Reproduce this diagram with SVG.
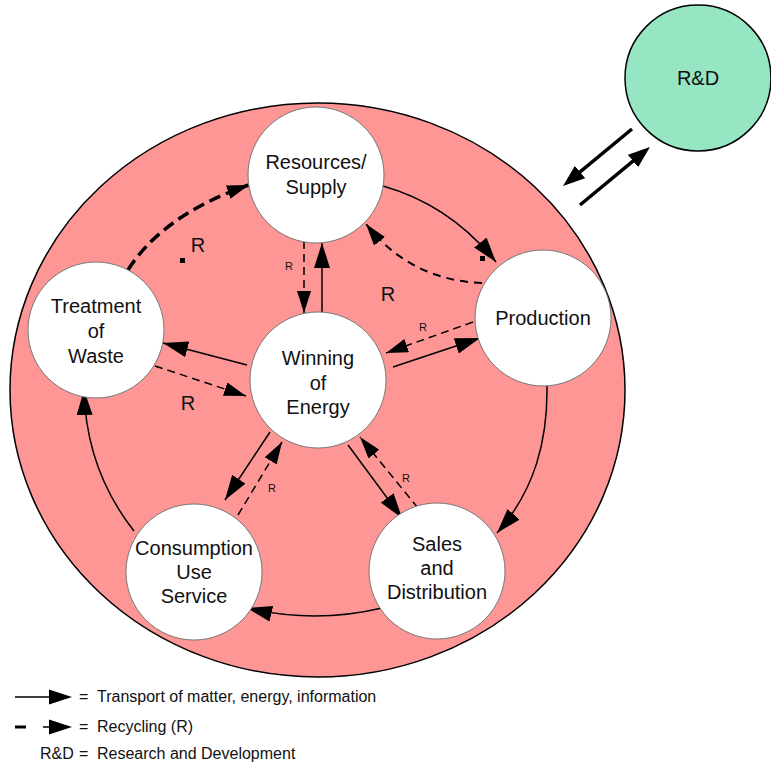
<svg xmlns="http://www.w3.org/2000/svg" width="771" height="764" viewBox="0 0 771 764">
<style>
.node circle{fill:#fff;stroke:#777;stroke-width:1}
.t{font-family:"Liberation Sans",Arial,sans-serif;font-size:20px;fill:#111;text-anchor:middle}
.rb{font-family:"Liberation Sans",Arial,sans-serif;font-size:20px;fill:#111;text-anchor:middle}
.rs{font-family:"Liberation Sans",Arial,sans-serif;font-size:11px;fill:#111;text-anchor:middle}
.lg{font-family:"Liberation Sans",Arial,sans-serif;font-size:16px;fill:#111}
.s{fill:none;stroke:#000;stroke-width:1.5;marker-end:url(#as)}
.d{fill:none;stroke:#000;stroke-width:1.5;stroke-dasharray:8 5;marker-end:url(#ad)}
.th{fill:none;stroke:#000;stroke-width:3.5;marker-end:url(#at)}
</style>
<defs>
<marker id="as" markerUnits="userSpaceOnUse" markerWidth="25" markerHeight="16" refX="25" refY="8" orient="auto"><path d="M0,0 L25,8 L0,16 z" fill="#000"/></marker>
<marker id="ad" markerUnits="userSpaceOnUse" markerWidth="22" markerHeight="14" refX="22" refY="7" orient="auto"><path d="M0,0 L22,7 L0,14 z" fill="#000"/></marker>
<marker id="at" markerUnits="userSpaceOnUse" markerWidth="22" markerHeight="16" refX="14" refY="8" orient="auto"><path d="M0,0 L22,8 L0,16 z" fill="#000"/></marker>
</defs>
<rect width="771" height="764" fill="#fff"/>
<ellipse id="system" cx="317.5" cy="390" rx="307.5" ry="287" fill="#fe9696" stroke="#000" stroke-width="1.5"/>
<g id="rd" class="node"><circle cx="698" cy="78" r="73" style="fill:#96e6c4;stroke:#000;stroke-width:1.5"/><text class="t" x="698" y="85">R&amp;D</text></g>
<g id="connectors">
<path class="s" d="M383,186 Q450,205 496,262"/>
<path class="d" style="stroke-width:2;stroke-dasharray:8 6" d="M482,283 Q410,280 366,224"/>
<path class="d" style="stroke-width:3.5;stroke-dasharray:12 6" d="M128,270 C150,235 190,205 249,185"/>
<path class="d" d="M304,241 V313"/>
<path class="s" d="M322,313 V243"/>
<path class="d" d="M473,322 L386,353"/>
<path class="s" d="M393,367 L480,338"/>
<path class="s" d="M247,365 L163,343"/>
<path class="d" d="M155,366 L246,396"/>
<path class="s" d="M270,432 L225,500"/>
<path class="d" d="M238,515 L282,442"/>
<path class="s" d="M348,445 L402,518"/>
<path class="d" d="M418,508 L360,437"/>
<path class="s" d="M547,384 C548,440 535,490 497,533"/>
<path class="s" d="M382,608 Q315,624 247,608"/>
<path class="s" d="M134,531 Q86,470 84,390"/>
<path class="th" d="M632,129 L569.2,180.9"/>
<path class="th" d="M580,205 L643.8,152.1"/>
<rect x="480" y="256" width="5" height="5" fill="#000"/>
<rect x="180" y="258" width="5" height="5" fill="#000"/>
<text class="rb" x="198" y="252">R</text>
<text class="rb" x="388" y="301">R</text>
<text class="rb" x="188" y="410">R</text>
<text class="rs" x="289" y="270">R</text>
<text class="rs" x="423" y="331">R</text>
<text class="rs" x="272" y="492">R</text>
<text class="rs" x="406" y="482">R</text>
</g>
<g id="resources" class="node"><circle cx="316" cy="175" r="68"/><text class="t" x="316" y="169">Resources/</text><text class="t" x="316" y="194">Supply</text></g>
<g id="production" class="node"><circle cx="543" cy="318" r="68"/><text class="t" x="543" y="325">Production</text></g>
<g id="winning" class="node"><circle cx="318" cy="380" r="68"/><text class="t" x="318" y="365">Winning</text><text class="t" x="318" y="390">of</text><text class="t" x="318" y="414">Energy</text></g>
<g id="treatment" class="node"><circle cx="96" cy="330" r="68"/><text class="t" x="96" y="313">Treatment</text><text class="t" x="96" y="338">of</text><text class="t" x="96" y="363">Waste</text></g>
<g id="consumption" class="node"><circle cx="194" cy="572" r="68"/><text class="t" x="194" y="555">Consumption</text><text class="t" x="194" y="579">Use</text><text class="t" x="194" y="603">Service</text></g>
<g id="sales" class="node"><circle cx="437" cy="571" r="68"/><text class="t" x="437" y="551">Sales</text><text class="t" x="437" y="575">and</text><text class="t" x="437" y="599">Distribution</text></g>
<g id="legend">
<line x1="15" y1="697" x2="52" y2="697" stroke="#000" stroke-width="1.5"/>
<polygon points="49,689.5 72,697 49,704.5" fill="#000"/>
<text class="lg" x="79" y="702">=</text><text class="lg" x="97" y="702">Transport of matter, energy, information</text>
<line x1="15" y1="727" x2="26" y2="727" stroke="#000" stroke-width="3"/>
<line x1="43" y1="727" x2="52" y2="727" stroke="#000" stroke-width="1.5"/>
<polygon points="49,719.5 72,727 49,734.5" fill="#000"/>
<text class="lg" x="79" y="732">=</text><text class="lg" x="97" y="732">Recycling (R)</text>
<text class="lg" x="40" y="759">R&amp;D</text><text class="lg" x="79" y="759">=</text><text class="lg" x="97" y="759">Research and Development</text>
</g>
</svg>
